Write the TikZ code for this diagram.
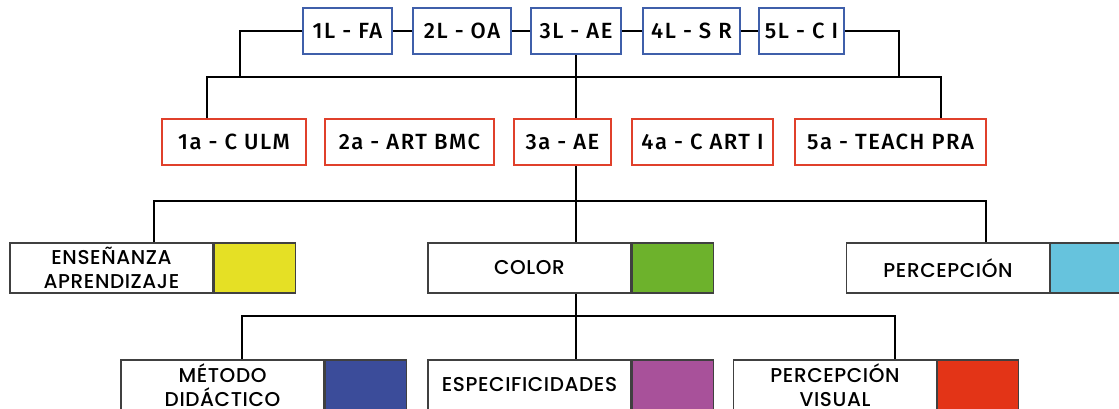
\documentclass[tikz,border=0pt]{standalone}
\usepackage{fontspec}
\setmainfont{Fira Sans}
\newfontfamily\levfont[LetterSpace=7]{Fira Sans Medium}
\newfontfamily\catfont[LetterSpace=3]{Poppins Medium}
\usetikzlibrary{positioning}
\definecolor{lblue}{HTML}{3F5FAA}
\definecolor{ared}{HTML}{E0402B}
\definecolor{cyel}{HTML}{E5E025}
\definecolor{cgrn}{HTML}{6DB22C}
\definecolor{ccya}{HTML}{66C3DD}
\definecolor{cblu}{HTML}{3B4C9A}
\definecolor{cmag}{HTML}{A8519A}
\definecolor{cred}{HTML}{E33417}
\tikzset{x=1pt, y=-1pt}
\tikzset{lev/.style={draw=lblue,line width=2pt,fill=white,inner sep=0pt,minimum height=46pt,font=\levfont\fontsize{22}{24}\selectfont}}
\tikzset{subj/.style={lev,draw=ared}}
\tikzset{cat/.style={draw=black!75,line width=1.2pt,fill=white,inner sep=0pt,minimum width=203pt,minimum height=50pt,align=center,font=\catfont\fontsize{20}{24}\selectfont}}
\tikzset{sw/.style={draw=black!75,line width=1.2pt,inner sep=0pt,minimum width=81pt,minimum height=50pt}}
\tikzset{wire/.style={line width=2pt}}

\begin{document}
\begin{tikzpicture}
        \useasboundingbox (0,0) rectangle (1119,408);
        \fill[white] (0,0) rectangle (1119,408);
        \clip (0,0) rectangle (1119,408);
        % levels
        \node (l1) [lev, minimum width=89pt] at (347.5,31) {1L - FA};
        \node (l2) [lev, minimum width=98pt, right=19pt of l1] {2L - OA};
        \node (l3) [lev, minimum width=90pt, right=18pt of l2] {3L - AE};
        \node (l4) [lev, minimum width=97pt, right=20pt of l3] {4L - S R};
        \node (l5) [lev, minimum width=85pt, right=17pt of l4] {5L - C I};
        % subjects
        \node (a1) [subj, minimum width=144pt] at (234,142) {1a - C ULM};
        \node (a2) [subj, minimum width=169pt, right=17pt of a1] {2a - ART BMC};
        \node (a3) [subj, minimum width=97pt, right=18pt of a2] {3a - AE};
        \node (a4) [subj, minimum width=141pt, right=19pt of a3] {4a - C ART I};
        \node (a5) [subj, minimum width=191pt, right=20pt of a4] {5a - TEACH PRA};
        % categories
        \node (ens) [cat] at (111.5,268) {ENSEÑANZA\\APRENDIZAJE};
        \node (ensc) [sw, fill=cyel, right=0pt of ens] {};
        \node (col) [cat] at (529.5,268) {COLOR};
        \node (colc) [sw, fill=cgrn, right=0pt of col] {};
        \node (per) [cat] at (948,268) {PERCEPCIÓN};
        \node (perc) [sw, fill=ccya, right=0pt of per] {};
        \node (met) [cat] at (222.5,385) {MÉTODO\\DIDÁCTICO};
        \node (metc) [sw, fill=cblu, right=0pt of met] {};
        \node (esp) [cat] at (529.5,385) {ESPECIFICIDADES};
        \node (espc) [sw, fill=cmag, right=0pt of esp] {};
        \node (pv) [cat] at (835,385) {PERCEPCIÓN\\VISUAL};
        \node (pvc) [sw, fill=cred, right=0pt of pv] {};
        % wires
        \draw[wire] (l1) -- (l2);
        \draw[wire] (l2) -- (l3);
        \draw[wire] (l3) -- (l4);
        \draw[wire] (l4) -- (l5);
        \draw[wire] (l1.west) -| (240,77);
        \draw[wire] (l5.east) -| (899,77);
        \draw[wire] ([xshift=-27pt]a1.north) -- ++(0,-41) -| ([xshift=50.5pt]a5.north);
        \draw[wire] (l3.south) -- (l3.south |- a3.north);
        \draw[wire] (l3.south |- a3.south) -- (l3.south |- col.north);
        \draw[wire] ([xshift=42.5pt]ens.north) -- ++(0,-41) -| ([xshift=38pt]per.north);
        \draw[wire] (l3.south |- col.south) -- (l3.south |- esp.north);
        \draw[wire] ([xshift=19.5pt]met.north) -- ++(0,-43) -| ([xshift=60pt]pv.north);
\end{tikzpicture}
\end{document}
